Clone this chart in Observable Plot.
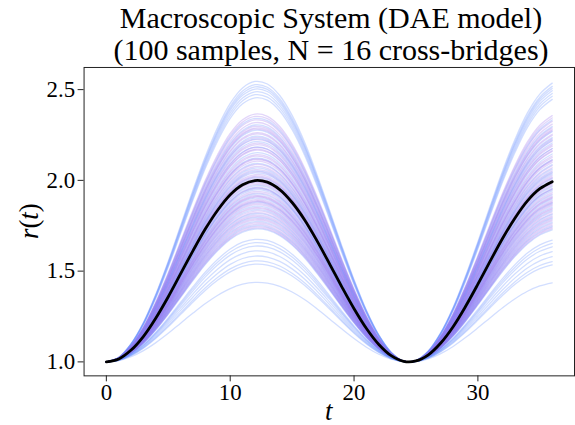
<!DOCTYPE html>
<html><head><meta charset="utf-8">
<script src="https://cdn.jsdelivr.net/npm/d3@7"></script>
<script src="https://cdn.jsdelivr.net/npm/@observablehq/plot@0.6"></script>
<style>
html,body{margin:0;padding:0;overflow:hidden;background:#fff;}
#title{width:578px;box-sizing:border-box;padding-left:84px;padding-top:2px;height:62px;font-family:"Liberation Serif",serif;font-size:30px;line-height:32px;text-align:center;color:#000;white-space:nowrap;}
#chart svg{display:block;}
</style></head><body>
<div id="title">Macroscopic System (DAE model)<br>(100 samples, N = 16 cross-bridges)</div>
<div id="chart"></div>
<script>
// time grid (t) and the mean trajectory r(t)
const times = [0,1,2,3,4,5,6,7,8,9,10,11,12,13,14,15,16,17,18,19,20,21,22,23,24,25,26,27,28,29,30,31,32,33,34,35,36];
const meanR = [1.000,1.016,1.065,1.141,1.242,1.359,1.486,1.613,1.733,1.837,1.921,1.976,1.999,1.990,1.949,1.878,1.783,1.668,1.543,1.415,1.293,1.184,1.096,1.034,1.003,1.005,1.039,1.104,1.194,1.305,1.428,1.556,1.681,1.793,1.887,1.954,1.993];
// peak value of each of the 100 sample curves (read at the first maximum)
const samplePeaks = [
  2.545,2.527,2.515,2.503,2.488,2.472,2.455,
  2.365,2.352,2.341,2.333,2.318,2.305,2.297,2.288,2.276,2.262,
  2.255,2.243,2.236,2.224,2.213,2.204,2.196,2.183,2.171,2.166,
  2.152,2.141,2.133,2.122,2.114,2.105,2.093,2.087,2.076,2.068,
  2.059,2.047,2.041,2.032,2.024,2.015,2.008,2.001,1.994,1.986,
  1.978,1.971,1.962,1.955,1.948,1.939,1.931,1.925,1.917,1.908,
  1.902,1.894,1.887,1.879,1.873,1.866,1.858,1.851,1.845,1.838,
  1.831,1.822,1.816,1.808,1.801,1.795,1.788,1.781,1.773,1.766,
  1.758,1.751,1.745,1.738,1.732,
  2.181,2.118,2.052,2.019,1.991,1.958,1.912,1.883,2.229,2.282,
  1.675,1.657,1.638,1.611,1.583,1.556,1.538,1.438
];
const xTicks = [0,10,20,30];
const yTicks = [1.0,1.5,2.0,2.5];

const meanPeak = d3.max(meanR);
const rows = [];
samplePeaks.forEach((p, i) => {
  const tone = (p > 2.4 || p < 1.7) ? "toneA" : (i % 3 === 0 ? "toneA" : "toneB");
  times.forEach((t, k) => {
    rows.push({sample: i, tone, t, r: 1 + (meanR[k] - 1) * (p - 1) / (meanPeak - 1)});
  });
});
const meanRows = times.map((t, k) => ({t, r: meanR[k]}));

const chart = Plot.plot({
  width: 578, height: 363,
  marginLeft: 84, marginRight: 1, marginTop: 5, marginBottom: 48,
  x: {domain: [-1.8, 37.8]},
  y: {domain: [0.923, 2.622]},
  color: {type: "ordinal", domain: ["toneA", "toneB"], range: ["#6a92ff", "#a078ee"]},
  style: {fontFamily: "Liberation Serif", fontSize: "22px", color: "#222", background: "#fff", overflow: "visible"},
  marks: [
    Plot.line(rows, {x: "t", y: "r", z: "sample", stroke: "tone", strokeOpacity: 0.3, strokeWidth: 1.3, curve: "catmull-rom"}),
    Plot.line(meanRows, {x: "t", y: "r", stroke: "#000", strokeWidth: 2.8, curve: "catmull-rom"}),
    Plot.frame({stroke: "#222", strokeWidth: 1}),
    Plot.axisX({ticks: xTicks, tickSize: 6, tickPadding: 2, fontSize: 23, label: null, tickFormat: d3.format("d"), fill: "#000"}),
    Plot.axisY({ticks: yTicks, tickSize: 6, tickPadding: 3, fontSize: 23, label: null, tickFormat: d3.format(".1f"), fill: "#000"})
  ]
});
document.getElementById("chart").append(chart);

const svg = d3.select(chart);
const yl = svg.append("text")
  .attr("transform", "translate(38,160) rotate(-90)")
  .attr("text-anchor", "middle")
  .attr("font-family", "Liberation Serif").attr("font-size", 27).attr("fill", "#000");
yl.append("tspan").attr("font-style", "italic").text("r");
yl.append("tspan").text("(");
yl.append("tspan").attr("font-style", "italic").text("t");
yl.append("tspan").text(")");
svg.append("text")
  .attr("x", 330.5).attr("y", 360)
  .attr("text-anchor", "middle")
  .attr("font-family", "Liberation Serif").attr("font-size", 27).attr("font-style", "italic").attr("fill", "#000")
  .text("t");
</script></body></html>
